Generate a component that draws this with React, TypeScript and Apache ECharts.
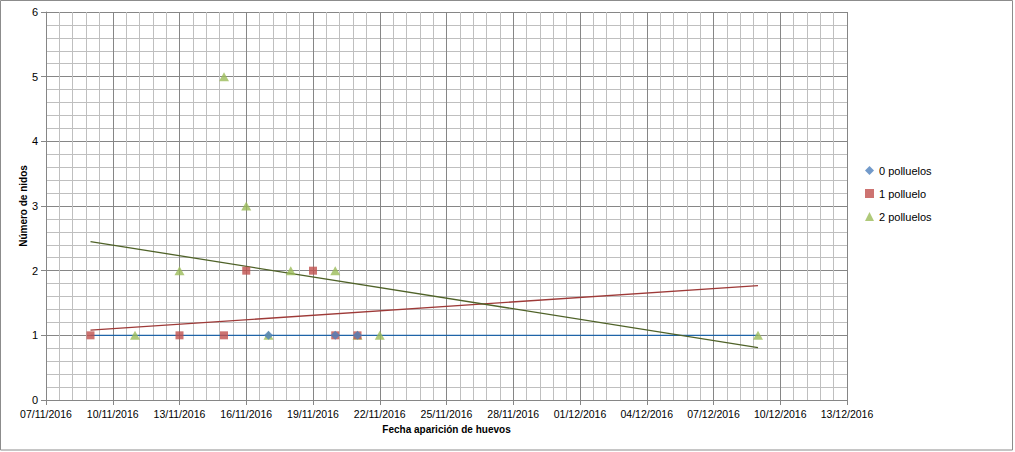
import React, { useEffect, useRef } from "react";
import * as echarts from "echarts";

const seriesNames = ["0 polluelos", "1 polluelo", "2 polluelos"];

const dates0 = ["2016-11-17", "2016-11-20", "2016-11-21"];
const values0 = [1, 1, 1];

const dates1 = ["2016-11-09", "2016-11-13", "2016-11-15", "2016-11-16", "2016-11-19", "2016-11-20", "2016-11-21"];
const values1 = [1, 1, 1, 2, 2, 1, 1];

const dates2 = ["2016-11-11", "2016-11-13", "2016-11-15", "2016-11-16", "2016-11-17", "2016-11-18", "2016-11-20", "2016-11-21", "2016-11-22", "2016-12-09"];
const values2 = [1, 2, 5, 3, 1, 2, 2, 1, 1, 1];

// Linear trendlines (endpoints)
const trendDates = ["2016-11-09", "2016-12-09"];
const trend0 = [1, 1];
const trend1 = [1.08, 1.77];
const trend2 = [2.45, 0.81];

const xMinDate = "2016-11-07";
const xMaxDate = "2016-12-13";

const DAY = 86400000;
const toDay = (s: string) => {
  const [y, m, d] = s.split("-").map(Number);
  return Date.UTC(y, m - 1, d) / DAY;
};
const fmt = (v: number) => {
  const dt = new Date(Math.round(v) * DAY);
  const dd = String(dt.getUTCDate()).padStart(2, "0");
  const mm = String(dt.getUTCMonth() + 1).padStart(2, "0");
  return `${dd}/${mm}/${dt.getUTCFullYear()}`;
};
const pts = (ds: string[], vs: number[]) => ds.map((d, i) => [toDay(d), vs[i]]);

const FONT = "'Liberation Sans', Arial, sans-serif";

export default function App() {
  const ref = useRef<HTMLDivElement>(null);
  useEffect(() => {
    if (!ref.current) return;
    const chart = echarts.init(ref.current, null, { renderer: "svg" });
    const axisGray = "#868686";
    chart.setOption({
      animation: false,
      backgroundColor: "#fff",
      textStyle: { fontFamily: FONT },
      graphic: [
        {
          type: "rect",
          shape: { x: 0.5, y: 0.5, width: 1012, height: 449.5 },
          style: { fill: "none", stroke: "#8c8c8c", lineWidth: 1 },
          silent: true,
        },
      ],
      grid: { left: 46, right: 168, top: 12, bottom: 52 },
      legend: {
        data: seriesNames,
        orient: "vertical",
        left: 860,
        top: 160,
        itemGap: 12,
        itemWidth: 9,
        itemHeight: 9,
        textStyle: { fontSize: 11, color: "#000", fontFamily: FONT },
      },
      xAxis: {
        type: "value",
        min: toDay(xMinDate),
        max: toDay(xMaxDate),
        interval: 3,
        name: "Fecha aparición de huevos",
        nameLocation: "middle",
        nameGap: 24,
        nameMoveOverlap: false,
        nameTextStyle: { fontSize: 10, fontWeight: "bold", color: "#000", fontFamily: FONT },
        axisLine: { show: true, lineStyle: { color: axisGray } },
        axisTick: { show: true, length: 5, lineStyle: { color: axisGray } },
        axisLabel: { formatter: fmt, fontSize: 10.5, color: "#000", margin: 8, fontFamily: FONT },
        splitLine: { show: true, lineStyle: { color: axisGray, width: 1 } },
        minorTick: { show: false, splitNumber: 5 },
        minorSplitLine: { show: true, lineStyle: { color: "#BFBFBF", width: 1 } },
      },
      yAxis: {
        type: "value",
        min: 0,
        max: 6,
        interval: 1,
        name: "Número de nidos",
        nameLocation: "middle",
        nameGap: 18,
        nameMoveOverlap: false,
        nameTextStyle: { fontSize: 10, fontWeight: "bold", color: "#000", fontFamily: FONT },
        axisLine: { show: true, lineStyle: { color: axisGray } },
        axisTick: { show: true, length: 5, lineStyle: { color: axisGray } },
        axisLabel: { fontSize: 11, color: "#000", margin: 8, fontFamily: FONT },
        splitLine: { show: true, lineStyle: { color: axisGray, width: 1 } },
        minorTick: { show: false, splitNumber: 5 },
        minorSplitLine: { show: true, lineStyle: { color: "#BFBFBF", width: 1 } },
      },
      series: [
        {
          name: "trend0",
          type: "line",
          data: pts(trendDates, trend0),
          symbol: "none",
          lineStyle: { color: "#1F64A8", width: 1.3 },
          z: 1,
          silent: true,
        },
        {
          name: "trend1",
          type: "line",
          data: pts(trendDates, trend1),
          symbol: "none",
          lineStyle: { color: "#9E3A38", width: 1.3 },
          z: 1,
          silent: true,
        },
        {
          name: "trend2",
          type: "line",
          data: pts(trendDates, trend2),
          symbol: "none",
          lineStyle: { color: "#4F6228", width: 1.3 },
          z: 1,
          silent: true,
        },
        {
          name: seriesNames[2],
          type: "scatter",
          data: pts(dates2, values2),
          symbol: "triangle",
          symbolSize: [10, 9],
          itemStyle: { color: "#9BBB59" },
          z: 3,
        },
        {
          name: seriesNames[1],
          type: "scatter",
          data: pts(dates1, values1),
          symbol: "rect",
          symbolSize: 8,
          itemStyle: { color: "#C0504D" },
          z: 4,
        },
        {
          name: seriesNames[0],
          type: "scatter",
          data: pts(dates0, values0),
          symbol: "diamond",
          symbolSize: 9,
          itemStyle: { color: "#4F81BD" },
          z: 5,
        },
      ],
    });
    return () => chart.dispose();
  }, []);
  return (
    <div
      ref={ref}
      style={{ position: "fixed", left: 0, top: 0, width: 1015, height: 452, background: "#fff" }}
    />
  );
}
